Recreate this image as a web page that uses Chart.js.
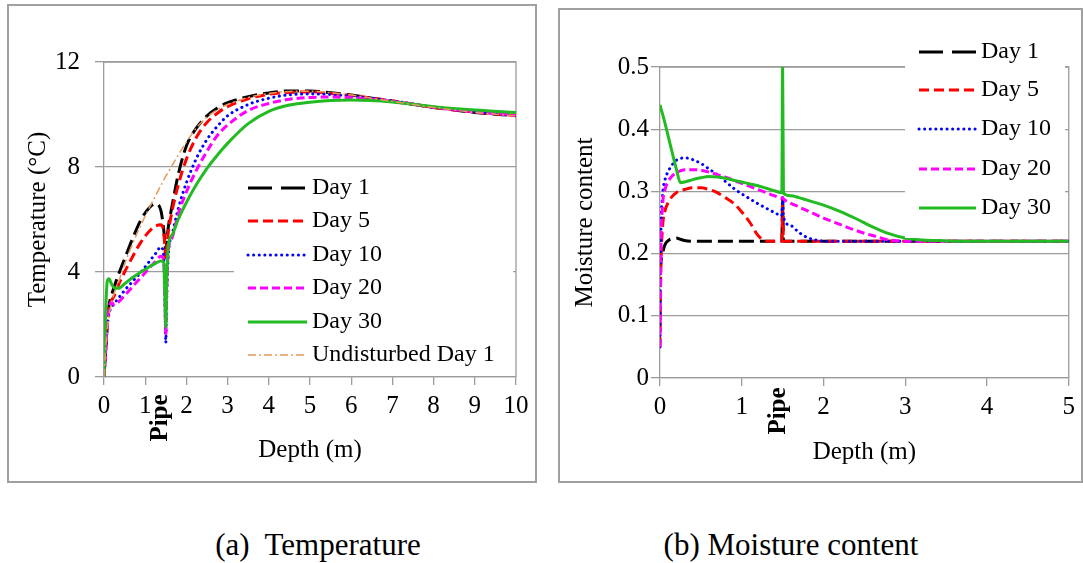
<!DOCTYPE html>
<html lang="en">
<head>
<meta charset="UTF-8">
<title>Temperature and moisture content vs depth</title>
<style>
  body {
    margin: 0;
    width: 1083px;
    height: 563px;
    position: relative;
    overflow: hidden;
    background: #fff;
    font-family: 'Liberation Serif', 'Times New Roman', serif;
  }
  .panel { position: absolute; border: 2px solid #a0a0a0; background: #fff; }
  .panel canvas { display: block; }
  #panelA { left: 7px; top: 4px; width: 526px; height: 475px; }
  #panelB { left: 558px; top: 8px; width: 521px; height: 471px; }
  .caption {
    position: absolute;
    top: 527px;
    font-size: 31px;
    line-height: 36px;
    white-space: pre;
    transform: translateX(-50%);
  }
</style>
<script src="https://cdn.jsdelivr.net/npm/chart.js"></script>
</head>
<body>
<div class="panel" id="panelA"><canvas id="tempChart"></canvas></div>
<div class="panel" id="panelB"><canvas id="moistChart"></canvas></div>
<div class="caption" style="left:318px">(a)  Temperature</div>
<div class="caption" style="left:791px">(b) Moisture content</div>

<script>
// (a) temperature profiles, depth in m, temperature in °C
const depthT = [0, 0.03, 0.08, 0.12, 0.18, 0.25, 0.35, 0.5, 0.7, 0.9, 1.1, 1.25, 1.38, 1.45, 1.48, 1.5, 1.52, 1.56, 1.65, 1.8,
                2.0, 2.25, 2.5, 2.75, 3.0, 3.5, 4.0, 4.5, 5.0, 5.5, 6.0, 7.0, 8.0, 9.0, 10.0];
const tempDay1  = [0, 0.8, 2.0, 2.7, 3.1, 3.45, 3.9, 4.5, 5.3, 6.0, 6.45, 6.6, 6.35, 5.6, 5.1, 4.8, 5.1, 5.7, 6.5, 7.7,
                   8.8, 9.5, 9.95, 10.25, 10.45, 10.68, 10.82, 10.9, 10.9, 10.83, 10.74, 10.5, 10.27, 10.08, 9.95];
const tempDay5  = [0, 0.7, 2.0, 2.6, 2.9, 3.1, 3.5, 4.0, 4.6, 5.15, 5.55, 5.75, 5.8, 5.5, 4.9, 4.5, 4.9, 5.5, 6.3, 7.3,
                   8.3, 9.15, 9.7, 10.05, 10.3, 10.6, 10.77, 10.84, 10.86, 10.8, 10.72, 10.52, 10.27, 10.09, 9.96];
const tempDay10 = [0, 0.6, 1.9, 2.4, 2.65, 2.8, 3.0, 3.3, 3.65, 4.0, 4.4, 4.7, 4.95, 4.6, 2.6, 1.3, 2.8, 4.6, 5.4, 6.4,
                   7.4, 8.35, 9.05, 9.55, 9.95, 10.38, 10.62, 10.75, 10.78, 10.76, 10.7, 10.52, 10.28, 10.1, 9.97];
const tempDay20 = [0, 0.8, 2.0, 2.6, 2.85, 2.75, 2.85, 3.1, 3.45, 3.8, 4.15, 4.4, 4.6, 4.45, 2.9, 1.6, 3.1, 4.8, 5.3, 6.2,
                   7.05, 7.9, 8.6, 9.2, 9.6, 10.15, 10.42, 10.58, 10.65, 10.67, 10.64, 10.5, 10.28, 10.1, 9.98];
const tempDay30 = [0, 2.0, 3.65, 3.74, 3.55, 3.4, 3.38, 3.55, 3.8, 4.0, 4.2, 4.33, 4.42, 4.38, 3.0, 1.9, 3.5, 5.0, 5.4, 6.0,
                   6.65, 7.35, 7.95, 8.45, 8.9, 9.65, 10.12, 10.36, 10.47, 10.53, 10.55, 10.48, 10.3, 10.17, 10.08];
const tempUndisturbed = [0, 0.8, 1.8, 2.3, 2.8, 3.2, 3.6, 4.3, 5.1, 5.8, 6.45, 6.9, 7.3, 7.5, 7.6, 7.65, 7.7, 7.8, 8.05, 8.45,
                   8.95, 9.5, 9.9, 10.18, 10.38, 10.65, 10.8, 10.88, 10.89, 10.83, 10.74, 10.5, 10.27, 10.08, 9.95];

// (b) moisture content profiles, depth in m
const depthM = [0, 0.01, 0.03, 0.06, 0.1, 0.15, 0.2, 0.25, 0.3, 0.4, 0.5, 0.6, 0.7, 0.8, 0.9, 1.0, 1.1, 1.2, 1.3, 1.4,
                1.49, 1.5, 1.51, 1.6, 1.7, 1.8, 1.9, 2.0, 2.2, 2.4, 2.6, 2.8, 3.0, 3.2, 3.4, 3.6, 4.0, 4.5, 5.0];
const moistDay1  = [0.17, 0.185, 0.2, 0.214, 0.221, 0.224, 0.225, 0.223, 0.221, 0.22, 0.22, 0.22, 0.22, 0.22, 0.22, 0.22, 0.22, 0.22, 0.22, 0.22,
                    0.22, 0.29, 0.22, 0.22, 0.22, 0.22, 0.22, 0.22, 0.22, 0.22, 0.22, 0.22, 0.22, 0.22, 0.22, 0.22, 0.22, 0.22, 0.22];
const moistDay5  = [0.05, 0.17, 0.24, 0.268, 0.282, 0.292, 0.298, 0.301, 0.303, 0.306, 0.306, 0.303, 0.298, 0.29, 0.281, 0.267, 0.25, 0.229, 0.22, 0.22,
                    0.22, 0.28, 0.22, 0.22, 0.22, 0.22, 0.22, 0.22, 0.22, 0.22, 0.22, 0.22, 0.22, 0.22, 0.22, 0.22, 0.22, 0.22, 0.22];
const moistDay10 = [0.05, 0.22, 0.29, 0.318, 0.332, 0.343, 0.35, 0.353, 0.354, 0.351, 0.345, 0.336, 0.327, 0.316, 0.305, 0.296, 0.288, 0.28, 0.273, 0.266,
                    0.261, 0.29, 0.259, 0.245, 0.234, 0.226, 0.222, 0.22, 0.22, 0.22, 0.22, 0.22, 0.22, 0.22, 0.22, 0.22, 0.22, 0.22, 0.22];
const moistDay20 = [0.05, 0.2, 0.275, 0.302, 0.316, 0.325, 0.33, 0.333, 0.335, 0.335, 0.334, 0.331, 0.327, 0.323, 0.318, 0.313, 0.308, 0.303, 0.298, 0.293,
                    0.289, 0.29, 0.288, 0.281, 0.275, 0.269, 0.263, 0.257, 0.247, 0.237, 0.229, 0.222, 0.22, 0.22, 0.22, 0.22, 0.22, 0.22, 0.22];
const moistDay30 = [0.439, 0.434, 0.425, 0.41, 0.389, 0.362, 0.336, 0.314, 0.315, 0.319, 0.322, 0.324, 0.323, 0.321, 0.318, 0.315, 0.312, 0.309, 0.305, 0.301,
                    0.298, 0.5, 0.297, 0.293, 0.29, 0.286, 0.282, 0.278, 0.268, 0.256, 0.243, 0.232, 0.225, 0.222, 0.221, 0.22, 0.22, 0.22, 0.22];

const pipeDepth = 1.5;

const serif = "'Liberation Serif', 'Times New Roman', serif";
const gridColor = '#9c9c9c';
const tickFont = { family: serif, size: 25 };
const titleFont = { family: serif, size: 25 };

function pts(xs, ys) {
    return xs.map((x, i) => ({ x: x, y: ys[i] }));
}

// line styles shared by both charts
const styles = {
    day1:  { borderColor: '#000000', borderWidth: 3, borderDash: [15, 6], legendDash: [24, 9] },
    day5:  { borderColor: '#ff0000', borderWidth: 3, borderDash: [10, 5] },
    day10: { borderColor: '#0000ff', borderWidth: 3, borderDash: [0.1, 5.5], borderCapStyle: 'round' },
    day20: { borderColor: '#ff00ff', borderWidth: 3, borderDash: [8, 4] },
    day30: { borderColor: '#22bb22', borderWidth: 3, borderDash: [] },
    undist: { borderColor: '#e39a5c', borderWidth: 1.5, borderDash: [8, 3, 2, 3] }
};

function series(label, xs, ys, style, order) {
    return Object.assign({
        label: label,
        data: pts(xs, ys),
        pointRadius: 0,
        fill: false,
        cubicInterpolationMode: 'monotone',
        order: order
    }, style);
}

// legend drawn inside the plot on a white box
const boxLegend = {
    id: 'boxLegend',
    afterDraw(chart, args, opts) {
        const ctx = chart.ctx;
        ctx.save();
        ctx.fillStyle = '#fff';
        ctx.fillRect(opts.box[0], opts.box[1], opts.box[2], opts.box[3]);
        chart.data.datasets.forEach((ds, i) => {
            const y = opts.rows[i];
            ctx.beginPath();
            ctx.setLineDash(ds.legendDash || ds.borderDash || []);
            ctx.lineCap = ds.borderCapStyle || 'butt';
            ctx.strokeStyle = ds.borderColor;
            ctx.lineWidth = ds.borderWidth;
            ctx.moveTo(opts.lineX[0], y);
            ctx.lineTo(opts.lineX[1], y);
            ctx.stroke();
            ctx.setLineDash([]);
            ctx.fillStyle = '#000';
            ctx.font = opts.fontSize + 'px ' + serif;
            ctx.textBaseline = 'middle';
            ctx.textAlign = 'left';
            ctx.fillText(ds.label, opts.textX, y);
        });
        ctx.restore();
    }
};

// top/right frame of the plot and the rotated "Pipe" mark under the x axis
const frameAndPipe = {
    id: 'frameAndPipe',
    beforeDatasetsDraw(chart) {
        const { ctx, chartArea: a } = chart;
        ctx.save();
        ctx.strokeStyle = gridColor;
        ctx.lineWidth = 1.3;
        ctx.beginPath();
        ctx.moveTo(a.left, a.top);
        ctx.lineTo(a.right, a.top);
        ctx.lineTo(a.right, a.bottom);
        ctx.stroke();
        ctx.restore();
    },
    afterDraw(chart, args, opts) {
        const ctx = chart.ctx;
        const x = chart.scales.x.getPixelForValue(pipeDepth);
        ctx.save();
        ctx.translate(x + opts.dx, opts.y);
        ctx.rotate(-Math.PI / 2);
        ctx.font = 'bold 25px ' + serif;
        ctx.textAlign = 'center';
        ctx.textBaseline = 'alphabetic';
        ctx.fillStyle = '#000';
        ctx.fillText('Pipe', 0, 0);
        ctx.restore();
    }
};

function axes(xMax, yMax, yStep, geo) {
    return {
        x: {
            type: 'linear', min: 0, max: xMax,
            ticks: { stepSize: 1, autoSkip: false, maxRotation: 0, padding: geo.xTickPad, font: tickFont, color: '#000' },
            grid: { drawOnChartArea: false, drawTicks: true, tickLength: 8, color: gridColor, lineWidth: 1.3 },
            border: { color: gridColor, width: 1.3 },
            title: { display: true, text: 'Depth (m)', font: titleFont, color: '#000', padding: { top: 0, bottom: geo.xTitlePad } },
            afterFit: s => { s.height = geo.xHeight; }
        },
        y: {
            min: 0, max: yMax,
            ticks: { stepSize: yStep, padding: geo.yTickPad, font: tickFont, color: '#000' },
            grid: { color: gridColor, lineWidth: 1.3, tickLength: 9 },
            border: { color: gridColor, width: 1.3 },
            title: { display: true, text: geo.yTitle, font: titleFont, color: '#000', padding: { top: geo.yTitlePad, bottom: 0 } },
            afterFit: s => { s.width = geo.yWidth; }
        }
    };
}

Chart.defaults.color = '#000';

new Chart(document.getElementById('tempChart'), {
    type: 'line',
    data: {
        datasets: [
            series('Day 1', depthT, tempDay1, styles.day1, 6),
            series('Day 5', depthT, tempDay5, styles.day5, 5),
            series('Day 10', depthT, tempDay10, styles.day10, 4),
            series('Day 20', depthT, tempDay20, styles.day20, 3),
            series('Day 30', depthT, tempDay30, styles.day30, 2),
            series('Undisturbed Day 1', depthT, tempUndisturbed, styles.undist, 1)
        ]
    },
    options: {
        responsive: true,
        maintainAspectRatio: false,
        animation: false,
        events: [],
        layout: { padding: { left: 0, right: 19, top: 56, bottom: 0 } },
        scales: axes(10, 12, 4, {
            xHeight: 104, xTickPad: 6, xTitlePad: 16,
            yWidth: 95, yTickPad: 15, yTitlePad: 14, yTitle: 'Temperature (°C)'
        }),
        plugins: {
            legend: { display: false },
            tooltip: { enabled: false },
            boxLegend: {
                box: [225, 166, 279, 200],
                rows: [182, 215, 249, 282, 316, 349],
                lineX: [239, 298], textX: 303, fontSize: 24
            },
            frameAndPipe: { dx: 1, y: 412 }
        }
    },
    plugins: [frameAndPipe, boxLegend]
});

new Chart(document.getElementById('moistChart'), {
    type: 'line',
    data: {
        datasets: [
            series('Day 1', depthM, moistDay1, styles.day1, 5),
            series('Day 5', depthM, moistDay5, styles.day5, 4),
            series('Day 10', depthM, moistDay10, styles.day10, 3),
            series('Day 20', depthM, moistDay20, styles.day20, 2),
            series('Day 30', depthM, moistDay30, styles.day30, 1)
        ]
    },
    options: {
        responsive: true,
        maintainAspectRatio: false,
        animation: false,
        events: [],
        layout: { padding: { left: 0, right: 10, top: 57, bottom: 0 } },
        scales: axes(5, 0.5, 0.1, {
            xHeight: 103, xTickPad: 6, xTitlePad: 14,
            yWidth: 100, yTickPad: 2, yTitlePad: 10, yTitle: 'Moisture content'
        }),
        plugins: {
            legend: { display: false },
            tooltip: { enabled: false },
            boxLegend: {
                box: [345, 20, 160, 208],
                rows: [42, 80, 119, 159, 198],
                lineX: [359, 416], textX: 421, fontSize: 24
            },
            frameAndPipe: { dx: 2, y: 401 }
        }
    },
    plugins: [frameAndPipe, boxLegend]
});
</script>
</body>
</html>
